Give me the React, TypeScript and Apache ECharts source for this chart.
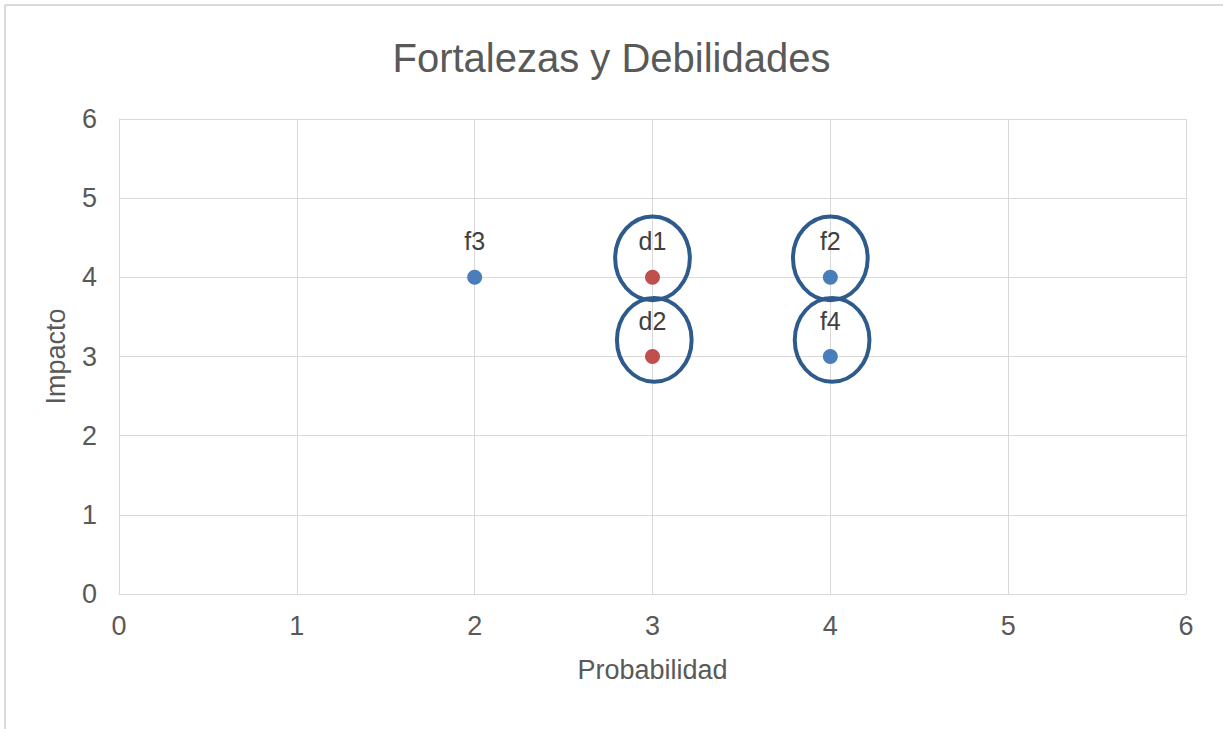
import React, { useEffect, useRef } from "react";
import * as echarts from "echarts";

const TITLE = "Fortalezas y Debilidades";
const X_NAME = "Probabilidad";
const Y_NAME = "Impacto";

// Fortalezas (blue)
const fNames = ["f3", "f2", "f4"];
const fX = [2, 4, 4];
const fY = [4, 4, 3];

// Debilidades (red)
const dNames = ["d1", "d2"];
const dX = [3, 3];
const dY = [4, 3];

// Highlight ellipses (data coordinates)
const ellipseX = [3.0, 3.01, 4.0, 4.01];
const ellipseY = [4.24, 3.21, 4.24, 3.21];
const ellipseRx = [0.21, 0.21, 0.21, 0.21];
const ellipseRy = [0.53, 0.53, 0.53, 0.53];

const AXIS_MIN = 0;
const AXIS_MAX = 6;
const AXIS_STEP = 1;

const FONT = "'Liberation Sans', Arial, sans-serif";
const TEXT = "#595959";
const GRID = "#d9d9d9";

export default function App() {
  const ref = useRef<HTMLDivElement>(null);

  useEffect(() => {
    document.body.style.margin = "0";
    if (!ref.current) return;
    const chart = echarts.init(ref.current, undefined, { renderer: "svg" });

    const fData = fX.map((x, i) => ({ name: fNames[i], value: [x, fY[i]] }));
    const dData = dX.map((x, i) => ({ name: dNames[i], value: [x, dY[i]] }));
    const eData = ellipseX.map((x, i) => [x, ellipseY[i], ellipseRx[i], ellipseRy[i]]);

    const label = {
      show: true,
      position: "top",
      distance: 16,
      formatter: (p: any) => p.name,
      color: "#404040",
      fontSize: 25,
      fontFamily: FONT,
    };

    chart.setOption({
      animation: false,
      backgroundColor: "#ffffff",
      textStyle: { fontFamily: FONT },
      title: {
        text: TITLE,
        left: "center",
        top: 33,
        textStyle: { color: TEXT, fontSize: 40, fontWeight: "normal", fontFamily: FONT },
      },
      graphic: [
        { type: "line", shape: { x1: 5, y1: 5, x2: 1223, y2: 5 }, style: { stroke: GRID, lineWidth: 2 } },
        { type: "line", shape: { x1: 5, y1: 5, x2: 5, y2: 729 }, style: { stroke: GRID, lineWidth: 2 } },
      ],
      grid: { left: 119, right: 37, top: 119, bottom: 135, containLabel: false },
      xAxis: {
        type: "value",
        min: AXIS_MIN,
        max: AXIS_MAX,
        interval: AXIS_STEP,
        name: X_NAME,
        nameLocation: "middle",
        nameGap: 62,
        nameTextStyle: { color: TEXT, fontSize: 27, fontFamily: FONT },
        axisLine: { show: true, lineStyle: { color: GRID, width: 1 } },
        axisTick: { show: false },
        axisLabel: { color: TEXT, fontSize: 27, margin: 18, fontFamily: FONT },
        splitLine: { show: true, lineStyle: { color: GRID, width: 1 } },
      },
      yAxis: {
        type: "value",
        min: AXIS_MIN,
        max: AXIS_MAX,
        interval: AXIS_STEP,
        name: Y_NAME,
        nameLocation: "middle",
        nameGap: 50,
        nameRotate: 90,
        nameTextStyle: { color: TEXT, fontSize: 27, fontFamily: FONT },
        axisLine: { show: true, lineStyle: { color: GRID, width: 1 } },
        axisTick: { show: false },
        axisLabel: { color: TEXT, fontSize: 27, margin: 22, fontFamily: FONT },
        splitLine: { show: true, lineStyle: { color: GRID, width: 1 } },
      },
      series: [
        {
          name: "Fortalezas",
          type: "scatter",
          symbolSize: 15,
          itemStyle: { color: "#4a7ebb", opacity: 1 },
          label,
          data: fData,
          z: 3,
        },
        {
          name: "Debilidades",
          type: "scatter",
          symbolSize: 15,
          itemStyle: { color: "#c0504d", opacity: 1 },
          label,
          data: dData,
          z: 3,
        },
        {
          name: "Resaltado",
          type: "custom",
          silent: true,
          z: 4,
          renderItem: (params: any, api: any) => {
            const c = api.coord([api.value(0), api.value(1)]);
            const s = api.size([api.value(2), api.value(3)]);
            return {
              type: "ellipse",
              shape: { cx: c[0], cy: c[1], rx: s[0], ry: s[1] },
              style: { fill: "none", stroke: "#2f5b8c", lineWidth: 4 },
            };
          },
          encode: { x: 0, y: 1 },
          data: eData,
        },
      ],
    });

    return () => chart.dispose();
  }, []);

  return <div ref={ref} style={{ width: 1223, height: 729 }} />;
}
